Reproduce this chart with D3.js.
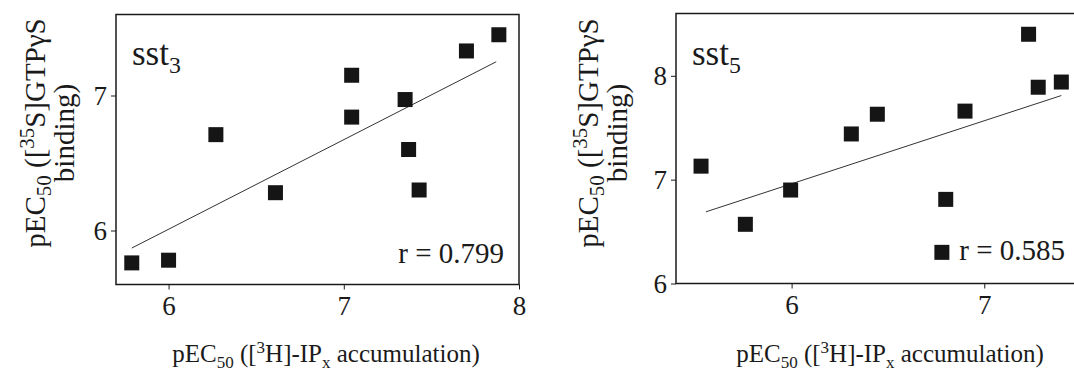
<!DOCTYPE html>
<html>
<head>
<meta charset="utf-8">
<script src="https://cdn.jsdelivr.net/npm/d3@7"></script>
<style>
  html, body { margin: 0; padding: 0; background: #fff; overflow: hidden; }
  svg { display: block; }
  text { font-family: "Liberation Serif", "Times New Roman", serif; fill: #1a1a1a; }
</style>
</head>
<body>
<svg id="chart" width="1074" height="379"></svg>
<script>
// sst3 receptor: pEC50 from [3H]-IPx accumulation vs [35S]GTPγS binding
const sst3X = [5.79, 6.00, 6.27, 6.61, 7.045, 7.045, 7.35, 7.37, 7.43, 7.70, 7.885];
const sst3Y = [5.76, 5.78, 6.71, 6.28, 7.15, 6.84, 6.97, 6.60, 6.30, 7.33, 7.45];
const sst3FitX = [5.79, 7.87];
const sst3FitY = [5.87, 7.25];
const sst3R = "0.799";

// sst5 receptor
const sst5X = [5.53, 5.76, 5.995, 6.31, 6.445, 6.90, 6.80, 6.78, 7.23, 7.28, 7.40];
const sst5Y = [7.13, 6.57, 6.90, 7.44, 7.63, 7.66, 6.81, 6.30, 8.40, 7.89, 7.94];
const sst5FitX = [5.555, 7.40];
const sst5FitY = [6.69, 7.81];
const sst5R = "0.585";

const ticks3X = [6, 7, 8];
const ticks3Y = [6, 7];
const ticks5X = [6, 7];
const ticks5Y = [6, 7, 8];

const svg = d3.select("#chart");
const ink = "#1a1a1a";
const serif = '"Liberation Serif", "Times New Roman", serif';

// Write a text run made of [string, kind] pieces; kind is "sub", "sup" or normal.
function richText(sel, parts, size, small) {
  const frac = small || 0.68;
  const shift = k => k === "sub" ? size * 0.22 : k === "sup" ? -size * 0.38 : 0;
  let prev = null;
  parts.forEach(([s, kind]) => {
    const t = sel.append("tspan").text(s)
      .attr("font-size", kind ? size * frac : size);
    const dy = shift(kind) - shift(prev);
    if (dy) t.attr("dy", dy);
    prev = kind;
  });
  return sel;
}

const yLabel1 = [["pEC"], ["50", "sub"], [" (["], ["35", "sup"], ["S]GTPγS"]];
const yLabel2 = [["binding)"]];
const xLabel = [["pEC"], ["50", "sub"], [" (["], ["3", "sup"], ["H]-IP"], ["x", "sub"], [" accumulation)"]];

function panel(cfg) {
  const x = d3.scaleLinear().domain(cfg.xDomain).range(cfg.xRange);
  const y = d3.scaleLinear().domain(cfg.yDomain).range(cfg.yRange);
  const g = svg.append("g");

  // frame
  g.append("rect")
    .attr("x", cfg.xRange[0]).attr("y", cfg.yRange[1])
    .attr("width", cfg.xRange[1] - cfg.xRange[0])
    .attr("height", cfg.yRange[0] - cfg.yRange[1])
    .attr("fill", "none").attr("stroke", ink).attr("stroke-width", 1.5);

  // axes
  const xa = g.append("g").attr("transform", `translate(0,${cfg.yRange[0]})`)
    .call(d3.axisBottom(x).tickValues(cfg.xTicks).tickSize(5).tickPadding(6).tickFormat(d3.format("d")));
  const ya = g.append("g").attr("transform", `translate(${cfg.xRange[0]},0)`)
    .call(d3.axisLeft(y).tickValues(cfg.yTicks).tickSize(5).tickPadding(4).tickFormat(d3.format("d")));
  [xa, ya].forEach(a => {
    a.attr("font-family", null);
    a.select(".domain").remove();
    a.selectAll("line").attr("stroke", ink).attr("stroke-width", 1);
    a.selectAll("text").style("font-family", serif).attr("font-size", 27).attr("fill", ink);
  });

  // regression line
  g.append("path")
    .datum(cfg.fitX.map((v, i) => [v, cfg.fitY[i]]))
    .attr("d", d3.line().x(d => x(d[0])).y(d => y(d[1])))
    .attr("fill", "none").attr("stroke", "#333").attr("stroke-width", 1);

  // points
  const s = 15;
  g.selectAll("rect.pt")
    .data(cfg.xs.map((v, i) => [v, cfg.ys[i]]))
    .join("rect").attr("class", "pt")
    .attr("x", d => x(d[0]) - s / 2).attr("y", d => y(d[1]) - s / 2)
    .attr("width", s).attr("height", s)
    .attr("fill", "#151515");

  // receptor name
  richText(g.append("text").attr("x", cfg.xRange[0] + 16).attr("y", 65),
    [["sst"], [cfg.sub, "sub"]], 35);

  // correlation
  g.append("text").attr("x", cfg.rX).attr("y", cfg.rY)
    .attr("text-anchor", "end").attr("font-size", 29)
    .text("r = " + cfg.r);

  // axis titles
  richText(g.append("text").attr("text-anchor", "middle")
    .attr("transform", `translate(${cfg.yl1},133) rotate(-90)`), yLabel1, 29, 0.72);
  richText(g.append("text").attr("text-anchor", "middle")
    .attr("transform", `translate(${cfg.yl2},133) rotate(-90)`), yLabel2, 29);
  richText(g.append("text").attr("text-anchor", "middle")
    .attr("x", cfg.xlX).attr("y", 362), xLabel, 25);
}

panel({
  xs: sst3X, ys: sst3Y, fitX: sst3FitX, fitY: sst3FitY, r: sst3R, sub: "3",
  xDomain: [5.7, 8], xRange: [116, 519],
  yDomain: [5.6, 7.6], yRange: [284.5, 14.5],
  xTicks: ticks3X, yTicks: ticks3Y,
  rX: 504, rY: 263, yl1: 45, yl2: 74, xlX: 326
});

panel({
  xs: sst5X, ys: sst5Y, fitX: sst5FitX, fitY: sst5FitY, r: sst5R, sub: "5",
  xDomain: [5.4, 7.5], xRange: [676, 1080.6],
  yDomain: [6, 8.6], yRange: [283.5, 13.5],
  xTicks: ticks5X, yTicks: ticks5Y,
  rX: 1065, rY: 260, yl1: 598, yl2: 627, xlX: 890
});
</script>
</body>
</html>
